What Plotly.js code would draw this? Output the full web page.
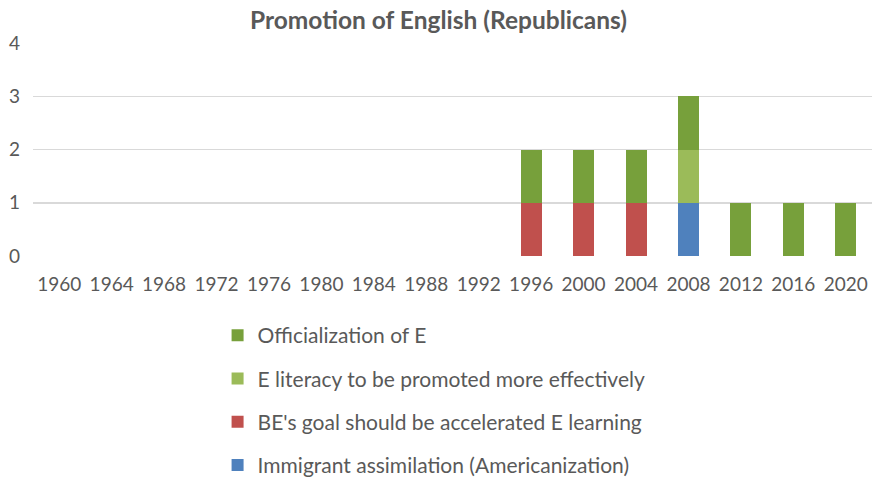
<!DOCTYPE html>
<html><head><meta charset="utf-8">
<script src="https://cdn.plot.ly/plotly-3.0.1.min.js"></script>
<style>html,body{margin:0;padding:0;background:#fff}#chart{width:877px;height:478px}</style>
</head><body><div id="chart"></div>
<script>
const years = ["1960","1964","1968","1972","1976","1980","1984","1988","1992","1996","2000","2004","2008","2012","2016","2020"];
const seriesNames = ["Immigrant assimilation (Americanization)","BE's goal should be accelerated E learning","E literacy to be promoted more effectively","Officialization of E"];
const assimilation = [0,0,0,0,0,0,0,0,0,0,0,0,1,0,0,0];
const beGoal       = [0,0,0,0,0,0,0,0,0,1,1,1,0,0,0,0];
const literacy     = [0,0,0,0,0,0,0,0,0,0,0,0,1,0,0,0];
const official     = [0,0,0,0,0,0,0,0,0,1,1,1,1,1,1,1];
const colors = ["#4f81bd","#c0504d","#9bbb59","#77a03b"];
const vals = [assimilation, beGoal, literacy, official];
const font = "Lato, 'Open Sans', sans-serif";
const traces = vals.map((v,i)=>({
  type:"bar", x:years, y:v, name:seriesNames[i],
  marker:{color:colors[i]}, legendgroup:"g"+i, legendrank:4-i,
  hoverinfo:"none"
}));
const layout = {
  width:877, height:478, barmode:"stack", bargap:0.6,
  margin:{l:33,r:5,t:43,b:222},
  paper_bgcolor:"#fff", plot_bgcolor:"#fff",
  title:{text:"<b>Promotion of English (Republicans)</b>", font:{family:font,size:24.5,color:"#595959"}, x:0.5, xanchor:"center", y:0.958, yanchor:"middle"},
  xaxis:{type:"category", tickfont:{family:font,size:19,color:"#595959"}, showgrid:false, zeroline:false, showline:false, ticks:"", ticklabelstandoff:15, fixedrange:true},
  yaxis:{range:[0,4], dtick:1, tickfont:{family:font,size:19,color:"#595959"}, gridcolor:"#d9d9d9", gridwidth:1.5, zeroline:false, showline:false, ticks:"", ticklabelstandoff:12, fixedrange:true},
  showlegend:true,
  legend:{orientation:"v", x:0.22, xanchor:"left", yref:"container", y:0.341, yanchor:"top", font:{family:font,size:21,color:"#595959"}, tracegroupgap:13, itemwidth:30, traceorder:"grouped"}
};
Plotly.newPlot("chart", traces, layout, {displayModeBar:false, staticPlot:true});
</script></body></html>
